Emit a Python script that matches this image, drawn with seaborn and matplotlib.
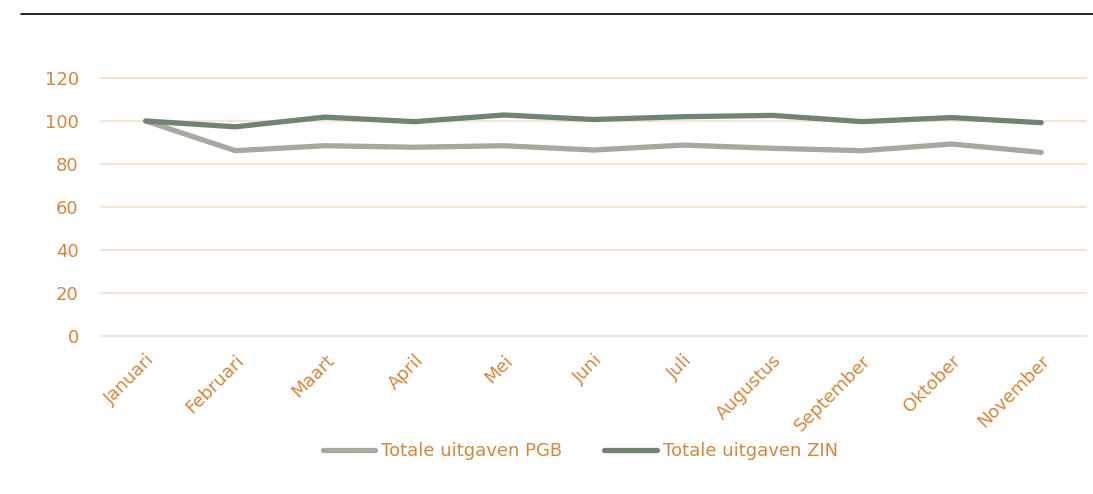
import numpy as np
import pandas as pd
import matplotlib
matplotlib.use('Agg')
import matplotlib.pyplot as plt
from matplotlib.lines import Line2D
import seaborn as sns

# Values (index, January = 100)
months = ['Januari', 'Februari', 'Maart', 'April', 'Mei', 'Juni',
          'Juli', 'Augustus', 'September', 'Oktober', 'November']
pgb = [100, 86.2, 88.5, 87.8, 88.5, 86.5, 88.8, 87.3, 86.2, 89.3, 85.4]
zin = [100, 97.3, 101.8, 99.7, 102.8, 100.7, 102.0, 102.6, 99.7, 101.6, 99.2]
series_names = ['Totale uitgaven PGB', 'Totale uitgaven ZIN']
yticks = [0, 20, 40, 60, 80, 100, 120]

df = pd.DataFrame({'Maand': months * 2,
                   'Waarde': pgb + zin,
                   'Reeks': [series_names[0]] * len(months) + [series_names[1]] * len(months)})

orange = '#D4873C'
grid_col = '#F6E4D4'
palette = {series_names[0]: '#ABA69F', series_names[1]: '#6F8571'}

sns.set_style('white')
plt.rcParams['font.family'] = ['DejaVu Sans']

W, H = 1093, 494
fig = plt.figure(figsize=(W / 100, H / 100), dpi=100)
ax = fig.add_axes([101 / W, 1 - 336 / H, (1086 - 101) / W, (336 - 78) / H])

sns.lineplot(data=df, x='Maand', y='Waarde', hue='Reeks', palette=palette,
             linewidth=3.8, sort=False, ax=ax, legend=False)
for ln in ax.lines:
    ln.set_solid_capstyle('round')
    ln.set_solid_joinstyle('round')
    ln.set_clip_on(False)

ax.set_xlim(-0.5, len(months) - 0.5)
ax.set_ylim(0, 120)
ax.set_yticks(yticks)
ax.set_yticklabels([str(v) for v in yticks])
ax.yaxis.grid(True, color=grid_col, linewidth=1.6)
for g in ax.yaxis.get_gridlines():
    g.set_clip_on(False)
ax.set_axisbelow(True)
for s in ax.spines.values():
    s.set_visible(False)
ax.tick_params(axis='both', length=0, labelsize=13, colors=orange)
ax.tick_params(axis='y', pad=16)
ax.set_xlabel('')
ax.set_ylabel('')
ax.set_xticks(range(len(months)))
ax.set_xticklabels(months, rotation=45, ha='right', va='top', rotation_mode='anchor')
ax.tick_params(axis='x', pad=11)

# legend below the chart
handles = [Line2D([0], [0], color=palette[n], lw=3.8, solid_capstyle='round') for n in series_names]
leg = fig.legend(handles, series_names, loc='center', bbox_to_anchor=(0.531, 1 - 451 / H),
                 ncol=2, frameon=False, fontsize=13, handlelength=2.9, handletextpad=0.35,
                 columnspacing=2.3)
for t in leg.get_texts():
    t.set_color(orange)

# thin black rule at the top
fig.add_artist(plt.Line2D([21 / W, 1.0], [1 - 14 / H, 1 - 14 / H], color='black', linewidth=1.2))

fig.savefig('out.png', dpi=100)
